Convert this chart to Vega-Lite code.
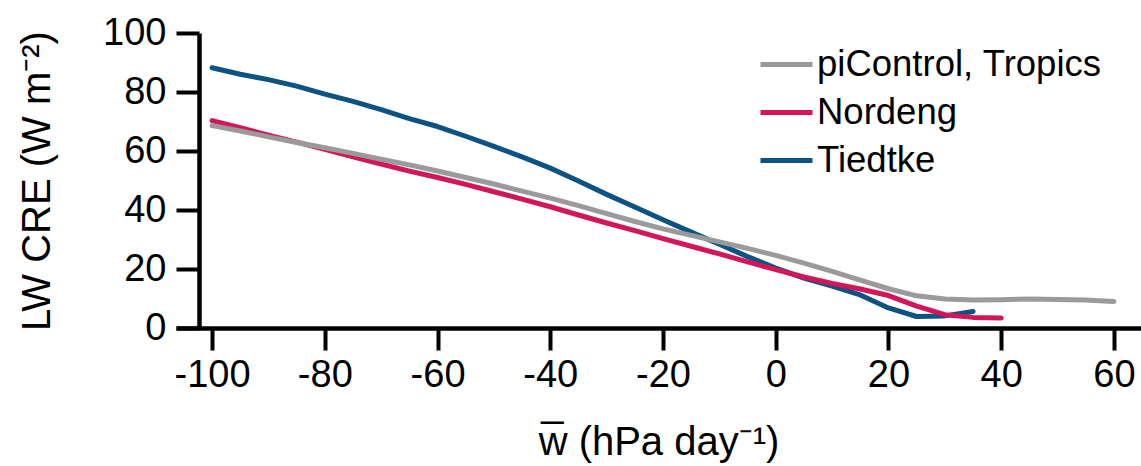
{
  "$schema": "https://vega.github.io/schema/vega-lite/v6.json",
  "autosize": {"type": "none"},
  "width": 965,
  "height": 295,
  "padding": {"left": 176, "top": 33, "right": 0, "bottom": 138},
  "background": "white",
  "config": {
    "view": {"stroke": null},
    "font": "Liberation Sans",
    "axis": {
      "domainColor": "black",
      "domainWidth": 4.5,
      "tickColor": "black",
      "tickWidth": 4,
      "labelColor": "black",
      "titleColor": "black",
      "labelFont": "Liberation Sans",
      "titleFont": "Liberation Sans",
      "labelFontSize": 38,
      "titleFontSize": 40,
      "titleFontWeight": "normal",
      "grid": false
    }
  },
  "data": {
    "values": [
      {"w": -100, "cre": 88.2, "run": "Tiedtke"},
      {"w": -95, "cre": 86.0, "run": "Tiedtke"},
      {"w": -90, "cre": 84.2, "run": "Tiedtke"},
      {"w": -85, "cre": 82.0, "run": "Tiedtke"},
      {"w": -80, "cre": 79.3, "run": "Tiedtke"},
      {"w": -75, "cre": 76.8, "run": "Tiedtke"},
      {"w": -70, "cre": 74.0, "run": "Tiedtke"},
      {"w": -65, "cre": 71.0, "run": "Tiedtke"},
      {"w": -60, "cre": 68.3, "run": "Tiedtke"},
      {"w": -55, "cre": 65.0, "run": "Tiedtke"},
      {"w": -50, "cre": 61.6, "run": "Tiedtke"},
      {"w": -45, "cre": 58.0, "run": "Tiedtke"},
      {"w": -40, "cre": 54.2, "run": "Tiedtke"},
      {"w": -35, "cre": 49.8, "run": "Tiedtke"},
      {"w": -30, "cre": 45.3, "run": "Tiedtke"},
      {"w": -25, "cre": 41.0, "run": "Tiedtke"},
      {"w": -20, "cre": 36.7, "run": "Tiedtke"},
      {"w": -15, "cre": 32.5, "run": "Tiedtke"},
      {"w": -10, "cre": 28.4, "run": "Tiedtke"},
      {"w": -5, "cre": 24.2, "run": "Tiedtke"},
      {"w": 0, "cre": 20.3, "run": "Tiedtke"},
      {"w": 5, "cre": 16.9, "run": "Tiedtke"},
      {"w": 10, "cre": 14.2, "run": "Tiedtke"},
      {"w": 15, "cre": 11.2, "run": "Tiedtke"},
      {"w": 20, "cre": 6.8, "run": "Tiedtke"},
      {"w": 25, "cre": 3.9, "run": "Tiedtke"},
      {"w": 30, "cre": 4.1, "run": "Tiedtke"},
      {"w": 35, "cre": 5.6, "run": "Tiedtke"},
      {"w": -100, "cre": 70.3, "run": "Nordeng"},
      {"w": -95, "cre": 67.9, "run": "Nordeng"},
      {"w": -90, "cre": 65.4, "run": "Nordeng"},
      {"w": -85, "cre": 63.0, "run": "Nordeng"},
      {"w": -80, "cre": 60.6, "run": "Nordeng"},
      {"w": -75, "cre": 58.0, "run": "Nordeng"},
      {"w": -70, "cre": 55.6, "run": "Nordeng"},
      {"w": -65, "cre": 53.2, "run": "Nordeng"},
      {"w": -60, "cre": 51.0, "run": "Nordeng"},
      {"w": -55, "cre": 48.7, "run": "Nordeng"},
      {"w": -50, "cre": 46.2, "run": "Nordeng"},
      {"w": -45, "cre": 43.7, "run": "Nordeng"},
      {"w": -40, "cre": 41.1, "run": "Nordeng"},
      {"w": -35, "cre": 38.3, "run": "Nordeng"},
      {"w": -30, "cre": 35.6, "run": "Nordeng"},
      {"w": -25, "cre": 33.0, "run": "Nordeng"},
      {"w": -20, "cre": 30.3, "run": "Nordeng"},
      {"w": -15, "cre": 27.7, "run": "Nordeng"},
      {"w": -10, "cre": 25.1, "run": "Nordeng"},
      {"w": -5, "cre": 22.4, "run": "Nordeng"},
      {"w": 0, "cre": 19.8, "run": "Nordeng"},
      {"w": 5, "cre": 17.3, "run": "Nordeng"},
      {"w": 10, "cre": 15.1, "run": "Nordeng"},
      {"w": 15, "cre": 13.2, "run": "Nordeng"},
      {"w": 20, "cre": 11.0, "run": "Nordeng"},
      {"w": 25, "cre": 7.4, "run": "Nordeng"},
      {"w": 30, "cre": 4.5, "run": "Nordeng"},
      {"w": 35, "cre": 3.6, "run": "Nordeng"},
      {"w": 40, "cre": 3.4, "run": "Nordeng"},
      {"w": -100, "cre": 68.6, "run": "piControl, Tropics"},
      {"w": -95, "cre": 66.8, "run": "piControl, Tropics"},
      {"w": -90, "cre": 64.8, "run": "piControl, Tropics"},
      {"w": -85, "cre": 62.9, "run": "piControl, Tropics"},
      {"w": -80, "cre": 61.1, "run": "piControl, Tropics"},
      {"w": -75, "cre": 59.2, "run": "piControl, Tropics"},
      {"w": -70, "cre": 57.2, "run": "piControl, Tropics"},
      {"w": -65, "cre": 55.3, "run": "piControl, Tropics"},
      {"w": -60, "cre": 53.2, "run": "piControl, Tropics"},
      {"w": -55, "cre": 51.0, "run": "piControl, Tropics"},
      {"w": -50, "cre": 48.8, "run": "piControl, Tropics"},
      {"w": -45, "cre": 46.4, "run": "piControl, Tropics"},
      {"w": -40, "cre": 44.0, "run": "piControl, Tropics"},
      {"w": -35, "cre": 41.5, "run": "piControl, Tropics"},
      {"w": -30, "cre": 38.8, "run": "piControl, Tropics"},
      {"w": -25, "cre": 36.1, "run": "piControl, Tropics"},
      {"w": -20, "cre": 33.6, "run": "piControl, Tropics"},
      {"w": -15, "cre": 31.4, "run": "piControl, Tropics"},
      {"w": -10, "cre": 29.2, "run": "piControl, Tropics"},
      {"w": -5, "cre": 27.0, "run": "piControl, Tropics"},
      {"w": 0, "cre": 24.6, "run": "piControl, Tropics"},
      {"w": 5, "cre": 22.0, "run": "piControl, Tropics"},
      {"w": 10, "cre": 19.2, "run": "piControl, Tropics"},
      {"w": 15, "cre": 16.2, "run": "piControl, Tropics"},
      {"w": 20, "cre": 13.3, "run": "piControl, Tropics"},
      {"w": 25, "cre": 10.9, "run": "piControl, Tropics"},
      {"w": 30, "cre": 9.8, "run": "piControl, Tropics"},
      {"w": 35, "cre": 9.5, "run": "piControl, Tropics"},
      {"w": 40, "cre": 9.6, "run": "piControl, Tropics"},
      {"w": 45, "cre": 9.8, "run": "piControl, Tropics"},
      {"w": 50, "cre": 9.7, "run": "piControl, Tropics"},
      {"w": 55, "cre": 9.5, "run": "piControl, Tropics"},
      {"w": 60, "cre": 9.0, "run": "piControl, Tropics"}
    ]
  },
  "mark": {"type": "line", "strokeWidth": 5, "strokeCap": "round", "strokeJoin": "round"},
  "encoding": {
    "x": {
      "field": "w",
      "type": "quantitative",
      "scale": {"domain": [-106.4, 64.8], "nice": false, "zero": false},
      "axis": {
        "values": [-100, -80, -60, -40, -20, 0, 20, 40, 60],
        "labelExpr": "replace(datum.label, '−', '-')",
        "tickSize": 22,
        "labelPadding": 6,
        "title": "w̅ (hPa day⁻¹)",
        "titlePadding": 28
      }
    },
    "y": {
      "field": "cre",
      "type": "quantitative",
      "scale": {"domain": [0, 100], "nice": false},
      "axis": {
        "values": [0, 20, 40, 60, 80, 100],
        "offset": -23,
        "tickSize": 23,
        "labelPadding": 10,
        "title": "LW CRE (W m⁻²)",
        "titlePadding": 45
      }
    },
    "color": {
      "field": "run",
      "type": "nominal",
      "scale": {
        "domain": ["piControl, Tropics", "Nordeng", "Tiedtke"],
        "range": ["#9a9a9a", "#d3165a", "#0c5283"]
      },
      "legend": {
        "orient": "none",
        "legendX": 582,
        "legendY": 3,
        "title": null,
        "symbolType": "stroke",
        "symbolSize": 2704,
        "symbolStrokeWidth": 5,
        "labelFontSize": 36.5,
        "labelFont": "Liberation Sans",
        "labelColor": "black",
        "labelLimit": 500,
        "labelOffset": 2,
        "rowPadding": 1
      }
    }
  }
}
